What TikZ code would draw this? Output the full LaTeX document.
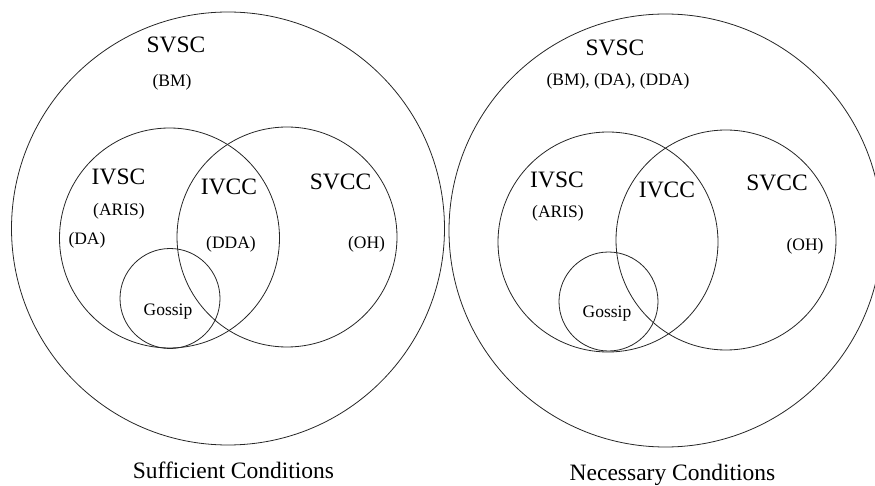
\documentclass[tikz,border=0pt]{standalone}
\usepackage{fontspec}
\setmainfont{Liberation Serif}
\begin{document}
\begin{tikzpicture}[x=1pt,y=-1pt,
  ring/.style={draw=black!85, line width=0.8pt, circle, inner sep=0pt},
  big/.style={font=\fontsize{23.5}{28}\selectfont, inner sep=0pt},
  small/.style={font=\fontsize{17.5}{21}\selectfont, inner sep=0pt}]
\useasboundingbox (0,0) rectangle (875,486);
\clip (0,0) rectangle (875,486);
% ---- left: sufficient conditions
\node[ring, minimum size=433pt] (LS) at (228,228.5) {};
\node[ring, minimum size=220pt] (LI) at (169.5,238) {};
\node[ring, minimum size=220pt] (LV) at (287,237) {};
\node[ring, minimum size=100pt] (LG) at (170,298.5) {};
\node[big] (lsvsc) at (176,45) {SVSC};
\node[small] (lbm) at (172,82) {(BM)};
\node[big] (livsc) at (118.5,176.5) {IVSC};
\node[small] (laris) at (119,211) {(ARIS)};
\node[small] (lda) at (87,240) {(DA)};
\node[big] (livcc) at (229,187) {IVCC};
\node[small] (ldda) at (231,244) {(DDA)};
\node[big] (lsvcc) at (340.5,182) {SVCC};
\node[small] (loh) at (366.5,244) {(OH)};
\node[small] (lgos) at (168,312) {Gossip};
\node[big, anchor=base] (lcap) at (233.5,478.5) {Sufficient Conditions};
% ---- right: necessary conditions
\node[ring, minimum size=433pt] (RS) at (665.5,230.5) {};
\node[ring, minimum size=220pt] (RI) at (608,242) {};
\node[ring, minimum size=220pt] (RV) at (726,240) {};
\node[ring, minimum size=99pt] (RG) at (608.5,301.5) {};
\node[big] (rsvsc) at (615,48) {SVSC};
\node[small] (rbm) at (618,81) {(BM), (DA), (DDA)};
\node[big] (rivsc) at (557,180) {IVSC};
\node[small] (raris) at (558,213) {(ARIS)};
\node[big] (rivcc) at (667,190) {IVCC};
\node[big] (rsvcc) at (777,183) {SVCC};
\node[small] (roh) at (805,246) {(OH)};
\node[small] (rgos) at (607,314) {Gossip};
\node[big, anchor=base] (rcap) at (672.5,480.5) {Necessary Conditions};
\end{tikzpicture}
\end{document}
